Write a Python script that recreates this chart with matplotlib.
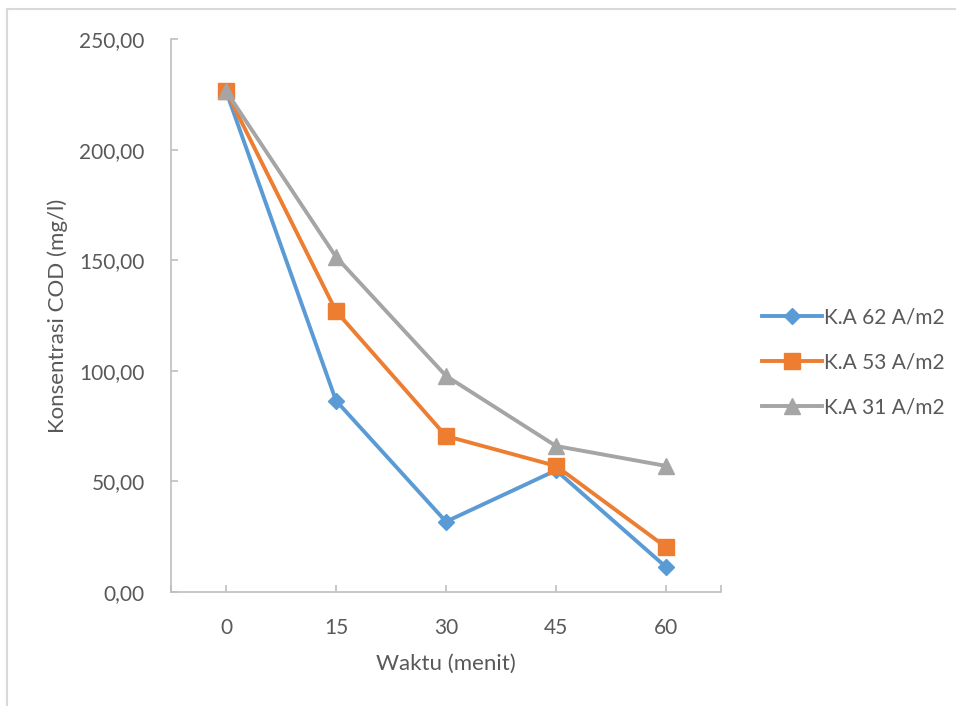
import matplotlib.pyplot as plt
from matplotlib.ticker import FuncFormatter

waktu = ['0', '15', '30', '45', '60']
ka62 = [226.5, 86.5, 31.8, 55.0, 11.3]
ka53 = [226.5, 127.0, 70.5, 57.0, 20.3]
ka31 = [226.5, 151.5, 97.7, 66.0, 57.0]
labels = ['K.A 62 A/m2', 'K.A 53 A/m2', 'K.A 31 A/m2']

plt.rcParams['font.family'] = ['Lato', 'DejaVu Sans']
txt = '#595959'
axc = '#BFBFBF'

fig = plt.figure(figsize=(9.56, 7.06), dpi=100)
ax = fig.add_axes([171/956, 1-592/706, 550/956, (592-39)/706])

x = range(len(waktu))
ax.plot(x, ka62, color='#5B9BD5', lw=2.8, marker='D', ms=8, label=labels[0])
ax.plot(x, ka53, color='#ED7D31', lw=2.8, marker='s', ms=11, label=labels[1])
ax.plot(x, ka31, color='#A5A5A5', lw=2.8, marker='^', ms=11, label=labels[2])

ax.set_xlim(-0.5, 4.5)
ax.set_ylim(0, 250)
ax.set_xticks(list(x))
ax.set_xticklabels(waktu)
ax.set_yticks([0, 50, 100, 150, 200, 250])
ax.yaxis.set_major_formatter(FuncFormatter(lambda v, p: f'{v:.2f}'.replace('.', ',')))
# end caps of the category axis
ax.set_xticks([-0.5, 4.5], minor=True)
ax.tick_params(axis='x', which='minor', direction='in', length=5, color=axc, width=1.2)
ax.tick_params(axis='both', which='major', direction='in', length=5, color=axc, width=1.2,
               labelsize=15, labelcolor=txt)
ax.tick_params(axis='x', pad=19)
ax.tick_params(axis='y', pad=19)

for s in ['top', 'right']:
    ax.spines[s].set_visible(False)
for s in ['left', 'bottom']:
    ax.spines[s].set_color(axc)
    ax.spines[s].set_linewidth(1.2)

ax.set_xlabel('Waktu (menit)', fontsize=16, color=txt, labelpad=11)
ax.set_ylabel('Konsentrasi COD (mg/l)', fontsize=16, color=txt, labelpad=8)

ax.legend(loc='center left', bbox_to_anchor=(1.04, 0.415), frameon=False, fontsize=15,
          labelcolor=txt, handlelength=2.9, handletextpad=0.1, labelspacing=1.2)

# chart area border (left and top visible)
fig.add_artist(plt.Line2D([7/956, 7/956], [1-9/706, 0], color='#D9D9D9', lw=1.5))
fig.add_artist(plt.Line2D([7/956, 1], [1-9/706, 1-9/706], color='#D9D9D9', lw=1.5))

fig.savefig('out.png', dpi=100)
